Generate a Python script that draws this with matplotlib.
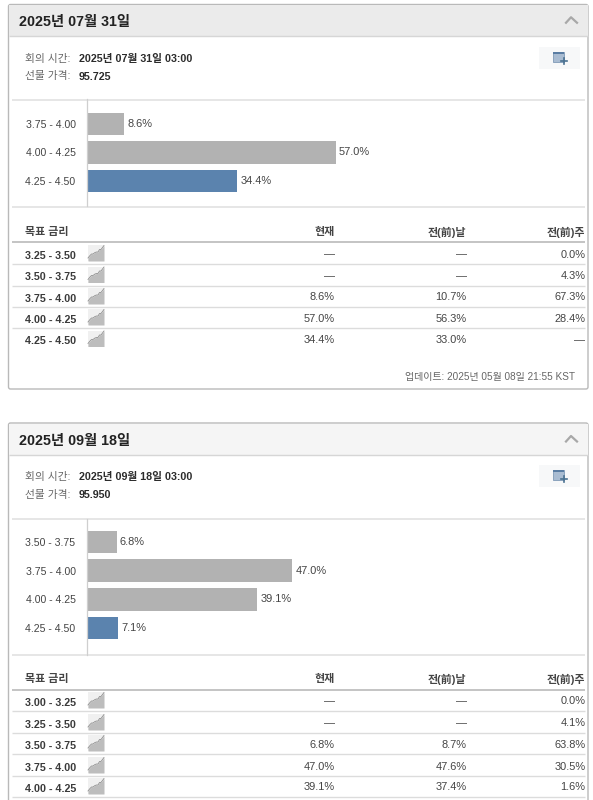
import matplotlib
matplotlib.use('Agg')
import matplotlib.pyplot as plt
from matplotlib.patches import FancyBboxPatch, Rectangle

plt.rcParams['font.family'] = ['Liberation Sans', 'Noto Sans CJK KR']

W, H = 593, 800

# 1. 데이터
title_1 = '2025년 07월 31일'
meeting_1 = '2025년 07월 31일 03:00'
price_1 = '95.725'
bar_labels_1 = ['3.75 - 4.00', '4.00 - 4.25', '4.25 - 4.50']
bar_values_1 = [8.6, 57.0, 34.4]
rates_1 = ['3.25 - 3.50', '3.50 - 3.75', '3.75 - 4.00', '4.00 - 4.25', '4.25 - 4.50']
now_1 = ['—', '—', '8.6%', '57.0%', '34.4%']
day_1 = ['—', '—', '10.7%', '56.3%', '33.0%']
week_1 = ['0.0%', '4.3%', '67.3%', '28.4%', '—']
update_1 = '업데이트: 2025년 05월 08일 21:55 KST'

title_2 = '2025년 09월 18일'
meeting_2 = '2025년 09월 18일 03:00'
price_2 = '95.950'
bar_labels_2 = ['3.50 - 3.75', '3.75 - 4.00', '4.00 - 4.25', '4.25 - 4.50']
bar_values_2 = [6.8, 47.0, 39.1, 7.1]
rates_2 = ['3.00 - 3.25', '3.25 - 3.50', '3.50 - 3.75', '3.75 - 4.00', '4.00 - 4.25']
now_2 = ['—', '—', '6.8%', '47.0%', '39.1%']
day_2 = ['—', '—', '8.7%', '47.6%', '37.4%']
week_2 = ['0.0%', '4.1%', '63.8%', '30.5%', '1.6%']

# 표 아이콘 모양 (작은 스파크라인)
spark_x = [0, 2, 3.5, 5, 7, 8.5, 10, 11.5, 13, 14.5, 16]
spark_y = [3, 5.5, 7, 7, 8.5, 9, 9, 11.5, 11.5, 13.5, 15.5]

GREY_BAR = '#b2b2b2'
BLUE_BAR = '#5b83ae'
TXT = '#444444'
DARK = '#2b2b2b'
LINE = '#dcdcdc'

fig = plt.figure(figsize=(W / 100, H / 100), dpi=100, facecolor='white')

# 픽셀 좌표계 배경 축
bg = fig.add_axes([0, 0, 1, 1])
bg.set_xlim(0, W)
bg.set_ylim(H, 0)
bg.axis('off')


def hline(y, x0=12, x1=585, color=LINE, lw=1.0):
    bg.plot([x0, x1], [y, y], color=color, lw=lw, solid_capstyle='butt', zorder=2)


def draw_icon(x, y):
    # 달력 + 더하기 아이콘
    bg.add_patch(Rectangle((x - 14, y - 11), 41, 22, fc='#f7f8f9', ec='none', zorder=2))
    bg.add_patch(Rectangle((x, y - 6), 11, 9.5, fc='#a9bcd2', ec='#6f8dae', lw=0.5, zorder=3))
    bg.add_patch(Rectangle((x, y - 6), 11, 2.3, fc='#5a7da3', ec='none', zorder=3))
    bg.plot([x + 11, x + 11], [y, y + 6], color='#4a7191', lw=1.2, zorder=4)
    bg.plot([x + 8, x + 14], [y + 3, y + 3], color='#4a7191', lw=1.2, zorder=4)


def draw_spark(y):
    xs = [88 + v for v in spark_x]
    ys = [y + 16 - v for v in spark_y]
    bg.add_patch(Rectangle((88, y), 16, 16, fc='#f0f0f0', ec='none', zorder=2))
    bg.fill_between(xs, ys, y + 16, color='#bdbdbd', lw=0, zorder=3)
    bg.plot(xs, ys, color='#8f8f8f', lw=0.6, zorder=4)


def draw_panel(top, bottom, head_bottom, head_color, title, meeting, price,
               sep1, sep2, text_y, bar_rows, bar_labels, bar_values,
               head_y, thick_y, row_y, line_y, rates, now, day, week):
    bg.add_patch(FancyBboxPatch((8.5, top), 579.5, bottom - top,
                                boxstyle='round,pad=0,rounding_size=2',
                                fc='white', ec='#b9b9b9', lw=1.0, zorder=1))
    bg.add_patch(Rectangle((9, top + 0.5), 578.5, head_bottom - top - 0.5,
                           fc=head_color, ec='none', zorder=1.5))
    hline(head_bottom, 9, 587.5, '#d6d6d6', 1.0)
    cy = (top + head_bottom) / 2
    bg.text(19, cy + 1.5, title, fontsize=10.3, fontweight='bold',
            color='#222222', va='center', ha='left', zorder=5)
    # 접기 화살표
    bg.plot([566, 571, 577], [cy + 2.5, cy - 3, cy + 2.5], color='#a8a8a8', lw=1.6, zorder=5)
    draw_icon(552.5, text_y[0] - 1)

    bg.text(25, text_y[0], '회의 시간:', fontsize=7.7, color='#666666', va='center')
    bg.text(25, text_y[1], '선물 가격:', fontsize=7.7, color='#666666', va='center')
    bg.text(79, text_y[0], meeting, fontsize=7.7, fontweight='bold', color=DARK, va='center')
    bg.text(79, text_y[1], price, fontsize=7.7, fontweight='bold', color=DARK, va='center')

    hline(sep1, 12, 585, '#e2e2e2', 1.2)
    hline(sep2, 12, 585, '#e2e2e2', 1.2)

    # 막대 축: 1% = 4.36 px
    x_px = 87
    ax = fig.add_axes([x_px / W, 1 - sep2 / H, 436 / W, (sep2 - sep1) / H])
    ax.patch.set_alpha(0)
    n = len(bar_values)
    step = (bar_rows[1] - bar_rows[0]) / (n - 1)
    ax.set_xlim(0, 100)
    ax.set_ylim((n - 1) + (sep2 - bar_rows[1]) / step, -(bar_rows[0] - sep1) / step)
    colors = [GREY_BAR] * (n - 1) + [BLUE_BAR]
    bars = ax.barh(range(n), bar_values, height=0.8, color=colors, zorder=2)
    ax.bar_label(bars, labels=[f'{v:.1f}%' for v in bar_values], padding=2.4,
                 fontsize=7.9, color=TXT)
    ax.set_yticks(range(n))
    ax.set_yticklabels(bar_labels, fontsize=7.6, color=TXT)
    ax.tick_params(axis='y', length=0, pad=8.2)
    ax.set_xticks([])
    for s in ['top', 'right', 'bottom']:
        ax.spines[s].set_visible(False)
    ax.spines['left'].set_color('#cfcfcf')
    ax.spines['left'].set_linewidth(0.9)

    # 표 헤더
    bg.text(25, head_y, '목표 금리', fontsize=7.9, fontweight='bold', color='#444444', va='center')
    bg.text(334.5, head_y, '현재', fontsize=7.9, fontweight='bold', color='#444444', va='center', ha='right')
    bg.text(466.5, head_y, '전(前)날', fontsize=7.9, fontweight='bold', color='#444444', va='center', ha='right')
    bg.text(585.5, head_y, '전(前)주', fontsize=7.9, fontweight='bold', color='#444444', va='center', ha='right')
    hline(thick_y, 12, 585, '#c4c4c4', 1.4)

    for i, y in enumerate(row_y):
        bg.text(25, y, rates[i], fontsize=7.7, fontweight='bold', color='#3a3a3a', va='center')
        draw_spark(y - 11)
        bg.text(334.5, y - 1.5, now[i], fontsize=7.9, color=TXT, va='center', ha='right')
        bg.text(466.5, y - 1.5, day[i], fontsize=7.9, color=TXT, va='center', ha='right')
        bg.text(585.5, y - 1.5, week[i], fontsize=7.9, color=TXT, va='center', ha='right')
    for y in line_y:
        hline(y, 12, 585, LINE, 1.0)


draw_panel(4.5, 389, 36, '#ebebeb', title_1, meeting_1, price_1, 99.5, 206.5, [59, 76.5],
           [124, 181], bar_labels_1, bar_values_1,
           232, 242, [256, 277.5, 299, 320, 341.5], [264, 285.5, 306.5, 328],
           rates_1, now_1, day_1, week_1)
bg.text(575, 377, update_1, fontsize=7.2, color='#666666', va='center', ha='right')

draw_panel(423, 830, 455, '#f5f5f5', title_2, meeting_2, price_2, 518.5, 654.5, [477, 495],
           [542, 628], bar_labels_2, bar_values_2,
           679, 690, [703, 725, 746, 768, 789], [711, 733, 754, 776, 797],
           rates_2, now_2, day_2, week_2)

fig.savefig('out.png', dpi=100, facecolor='white')
